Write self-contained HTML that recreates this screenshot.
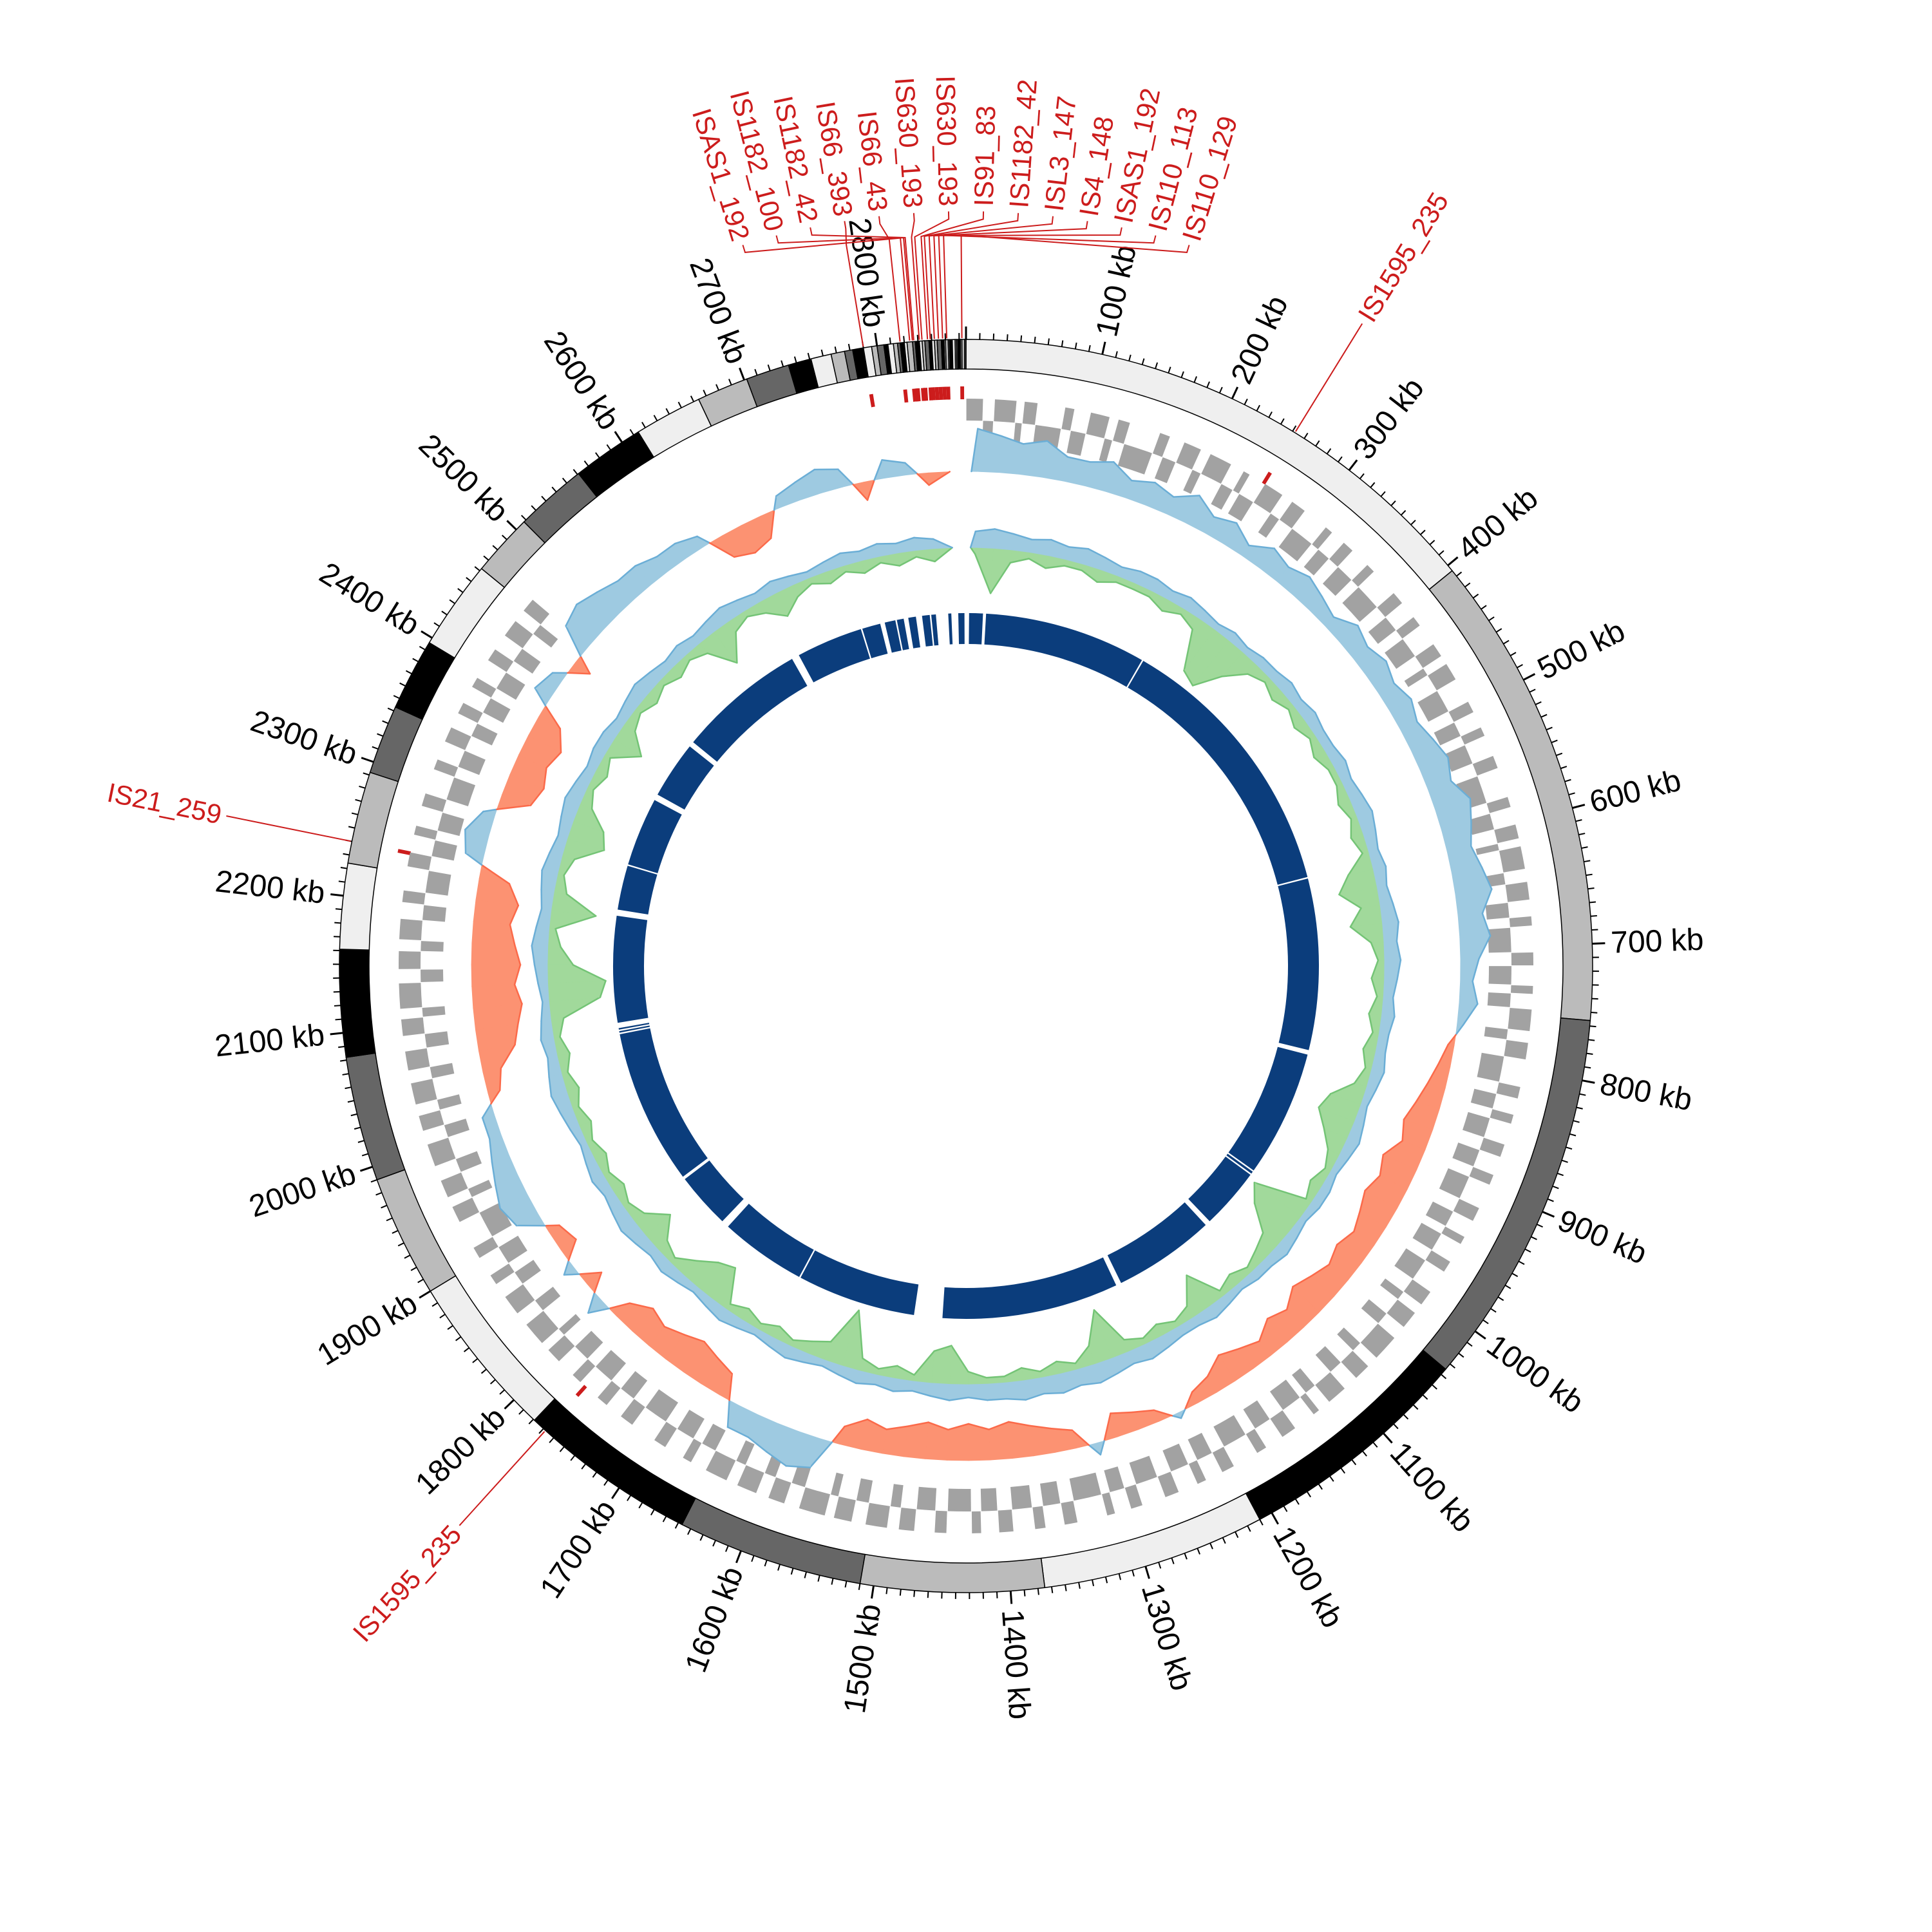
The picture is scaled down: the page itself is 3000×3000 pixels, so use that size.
<!DOCTYPE html>
<html><head><meta charset="utf-8"><title>Circular genome map</title>
<style>
html,body{margin:0;padding:0;background:#fff;}
svg{display:block;}
text{font-family:"Liberation Sans Narrow","Liberation Sans",sans-serif;}
</style></head>
<body>
<svg id="chart" width="3000" height="3000" viewBox="0 0 3000 3000" xmlns="http://www.w3.org/2000/svg">
<rect x="0" y="0" width="3000" height="3000" fill="#ffffff"/>
</svg>
<script>
// ---------------- data ----------------
const genomeKb = 2865;
const contigLens = [405,351,279,175,165,135,137,132,121,90,92,79,63,68,51,53,66,46,53,53,50,38,32,17,15,10,6,8,6,4,5,3,4,3,2,3,2,4,2,3,2,2,3,2,2,2,3,2,1,2,1,2,2,1,1,2,1,2,3];
const contigColors = ['#efefef','#bbbbbb','#666666','#000000'];
const gcVals = [
 .7,.6,.5,.6,.4,.4,.5,.3,.4,.3,
 .5,.3,.4,.2,.4,.3,.4,.3,.2,.4,
 .3,.4,.3,.4,.3,.4,.5,.4,.6,.5,
 .4,.5,.6,.4,.5,.3,.2,.3,.1,-.1,
 -.2,-.3,-.4,-.5,-.4,-.6,-.5,-.6,-.5,-.4,
 -.5,-.4,-.5,-.6,-.4,-.5,-.3,-.4,-.5,-.3,
 -.2,.1,-.2,-.3,-.4,.2,-.3,-.4,-.5,-.6,
 -.5,-.6,-.5,-.6,-.5,-.4,-.5,-.3,.5,.6,
 .5,.4,.4,-.4,-.5,-.6,-.5,-.4,-.5,-.3,
 .3,-.3,.2,-.3,-.2,.4,.5,.4,.3,.2,
 .2,-.2,-.3,-.6,-.7,-.8,-.7,-.8,-.7,-.6,
 -.7,-.5,.3,.4,.2,-.5,-.6,-.5,-.6,-.4,
 .3,.2,-.3,.5,.6,.5,.4,.4,.3,.3,
 .2,-.4,-.5,-.4,.2,.3,.4,.3,-.3,.3,
 .2,-.2,0,0];
const blueVals = [
 .5,.6,.5,.4,.5,.4,.5,.4,.3,.4,
 .4,.3,.4,.3,.2,.3,.2,.3,.3,.4,
 .3,.4,.3,.3,.4,.3,.4,.5,.4,.3,
 .4,.3,.4,.5,.4,.5,.4,.3,.4,.3,
 .3,.4,.3,.2,.3,.4,.3,.2,.3,.3,
 .2,.3,.4,.3,.3,.2,.3,.4,.3,.3,
 .4,.5,.4,.5,.6,.5,.6,.5,.6,.5,
 .5,.4,.5,.4,.3,.4,.3,.4,.3,.2,
 .3,.4,.3,.2,.3,.4,.3,.2,.3,.4,
 .3,.4,.5,.4,.3,.4,.3,.2,.3,.4,
 .5,.4,.3,.4,.3,.2,.3,.4,.5,.4,
 .3,.4,.5,.4,.3,.4,.5,.4,.3,.4,
 .4,.3,.4,.5,.4,.3,.4,.3,.4,.5,
 .4,.3,.4,.3,.2,.3,.4,.3,.4,.3,
 .4,.3,0,0];
const greenVals = [
 .1,.7,.2,.1,.2,.1,.1,.2,.1,.1,
 .1,.2,.1,.2,.8,.9,.5,.2,.1,.2,
 .1,.2,.1,.2,.1,.1,.2,.1,.2,.1,
 .4,.6,.3,.5,.2,.1,.2,.1,.2,.1,
 .2,.1,.2,.5,.6,.4,.2,.1,.2,.1,
 .9,.7,.3,.2,.1,.2,.1,.6,.2,.1,
 .2,.1,.2,.8,.3,.1,.2,.1,.2,.1,
 .1,.2,.6,.5,.1,.2,.1,.2,.9,.3,
 .2,.1,.2,.1,.2,.1,.6,.5,.3,.1,
 .2,.5,.2,.1,.2,.1,.2,.1,.2,.1,
 .2,.1,.2,.1,.2,.8,.9,.4,.2,.1,
 .7,.2,.1,.2,.6,.5,.2,.1,.2,.1,
 .5,.2,.1,.2,.1,.2,.1,.2,.6,.2,
 .1,.2,.4,.2,.1,.2,.1,.2,.1,.2,
 .1,.2,0,0];
const binKb = 20;
const geneRuns = [14,9,18,6,11,22,8,13,16,7,10,25,9,12,15,8,19,11,6,14,17,9,13,21,7,12,10,16,8,23,11,14,9,18,12,7,15,20,10,13,8,17,11,24,9,14,12,6,19,10,15,13,8,21,11,16,7,12,18,9,14,22,10,13,8,17,11,15,9,20,12,14,7,16,10,19,13,8,15,11,22,9,14,12,17,10,6,18,13,15,9,21,11,14,8,16,12,19,10,13,7,24,11,15,9,17,12,14,8,20,10,16,13,9,18,11,15,7,22,12,14,10,17,9,19,13,8,16,11,21,12,14,10,18,9,15,13,7,20,11,17,12,9,16,10,23,14,8,15,12,19,11,13,9,18,10,16,12,14,8,21,11,15,9,17,13,10,19,12,14,8,16,11,20,9,15,13,12,10,14,9,16,11,13,15,10,12];
const navyStarts = [4,26,240,602,832,1000,1005,1092,1232,1500,1657,1780,1857,2062,2066,2075,2222,2282,2380,2462,2640,2729,2759,2775,2790,2808,2820,2842,2855];
const navyEnds   = [22,238,600,826,998,1003,1085,1225,1463,1655,1770,1853,2060,2064,2068,2214,2280,2372,2455,2630,2727,2753,2773,2784,2800,2818,2826,2846,2863];
const isNames = ['IS1595_235','IS1595_235','IS21_259','ISAS1_192','IS1182_100','IS1182_42','IS66_393','IS66_43','IS630_193','IS630_193','IS91_83','IS1182_42','ISL3_147','IS4_148','ISAS1_192','IS110_113','IS110_129'];
const isKb = [252,1768,2240,2824,2826,2827,2790,2817,2831,2833,2837,2839,2842,2845,2848,2851,2862];
const tickStepKb = 10;
const labelStepKb = 100;

// ---------------- geometry ----------------
const CX = 1500, CY = 1500;
const NS = 'http://www.w3.org/2000/svg';
const svg = document.getElementById('chart');
function deg(kb){ return kb / genomeKb * 360; }
function P(r, kb){ const a = deg(kb) * Math.PI / 180; return [CX + r * Math.sin(a), CY - r * Math.cos(a)]; }
function pt(p){ return p[0].toFixed(2) + ',' + p[1].toFixed(2); }
function sector(r0, r1, k0, k1){
  const large = (k1 - k0) / genomeKb > 0.5 ? 1 : 0;
  return 'M' + pt(P(r1, k0)) + ' A' + r1 + ',' + r1 + ' 0 ' + large + ' 1 ' + pt(P(r1, k1)) +
         ' L' + pt(P(r0, k1)) + ' A' + r0 + ',' + r0 + ' 0 ' + large + ' 0 ' + pt(P(r0, k0)) + ' Z';
}
function mk(tag, parent){ const e = document.createElementNS(NS, tag); (parent || svg).appendChild(e); return e; }
function group(){ const g = mk('g'); return g; }

// ---------------- outer contig ring ----------------
const gContig = group();


let pos = 0;
contigLens.forEach((len, i) => {
  const end = Math.min(genomeKb, pos + len);
  if (end <= pos) return;
  const p = mk('path', gContig);
  
  
  p.setAttribute('d', sector(927, 973, pos, end));
  p.setAttribute('fill', contigColors[i % 4]);
  p.setAttribute('stroke', '#000');
  p.setAttribute('stroke-width', '1.5');
  pos = end;
});
if (pos < genomeKb) {
  const p = mk('path', gContig);
  
  
  p.setAttribute('d', sector(927, 973, pos, genomeKb));
  p.setAttribute('fill', '#000');
}

// ---------------- ticks and labels ----------------
const gTicks = group();


for (let k = 0; k < genomeKb - 4; k += tickStepKb) {
  const major = k % labelStepKb === 0;
  const a = P(973, k), b = P(major ? 993 : 983, k);
  const l = mk('line', gTicks);
  
  
  l.setAttribute('x1', a[0]); l.setAttribute('y1', a[1]);
  l.setAttribute('x2', b[0]); l.setAttribute('y2', b[1]);
  l.setAttribute('stroke', '#000');
  l.setAttribute('stroke-width', major ? 3 : 2);
  if (major && k > 0) {
    const t = mk('text', gTicks);
    
    
    const d = deg(k), q = P(1002, k);
    const rot = d < 180 ? d - 90 : d + 90;
    t.setAttribute('x', q[0]); t.setAttribute('y', q[1]);
    t.setAttribute('transform', 'rotate(' + rot.toFixed(2) + ' ' + q[0].toFixed(2) + ' ' + q[1].toFixed(2) + ')');
    t.setAttribute('text-anchor', d < 180 ? 'start' : 'end');
    t.setAttribute('dominant-baseline', 'central');
    t.setAttribute('font-size', '48');
    t.setAttribute('fill', '#000');
    t.textContent = k + ' kb';
  }
}

// ---------------- IS element track ----------------
const gIS = group();


isKb.forEach((k) => {
  const p = mk('path', gIS);
  
  
  p.setAttribute('d', sector(880, 900, k - 1.5, k + 1.5));
  p.setAttribute('fill', '#cc1c1c');
});

// labels
const gISL = group();


const clusterIdx = [];
isKb.forEach((k, i) => { if (k > 2780) clusterIdx.push(i); });
const spanDeg = 34.4;
isNames.forEach((name, i) => {
  const k = isKb[i];
  let labKb = k;
  const ci = clusterIdx.indexOf(i);
  if (ci >= 0) {
    const d = -spanDeg / 2 + ci * spanDeg / (clusterIdx.length - 1);
    labKb = genomeKb + d / 360 * genomeKb;
  }
  const pts = [P(975, k), P(1135, k), P(1160, labKb), P(1172, labKb)];
  const pl = mk('polyline', gISL);
  
  
  pl.setAttribute('points', pts.map(pt).join(' '));
  pl.setAttribute('fill', 'none');
  pl.setAttribute('stroke', '#cc1c1c');
  pl.setAttribute('stroke-width', '2');
  const t = mk('text', gISL);
  
  
  let d = deg(labKb) % 360;
  const q = P(1180, labKb);
  const rot = d < 180 ? d - 90 : d + 90;
  t.setAttribute('x', q[0]); t.setAttribute('y', q[1]);
  t.setAttribute('transform', 'rotate(' + rot.toFixed(2) + ' ' + q[0].toFixed(2) + ' ' + q[1].toFixed(2) + ')');
  t.setAttribute('text-anchor', d < 180 ? 'start' : 'end');
  t.setAttribute('dominant-baseline', 'central');
  t.setAttribute('font-size', '42');
  t.setAttribute('fill', '#cc1c1c');
  t.textContent = name;
});

// ---------------- gene track ----------------
const gGenes = group();


let gp = 0, strand = 0;
for (let i = 0; i < geneRuns.length && gp < genomeKb - 2; i++) {
  const end = Math.min(genomeKb - 1, gp + geneRuns[i]);
  const r0 = strand === 0 ? 847 : 812, r1 = strand === 0 ? 881 : 847;
  const p = mk('path', gGenes);
  
  
  p.setAttribute('d', sector(r0, r1, gp + 0.3, end - 0.3));
  p.setAttribute('fill', '#a2a2a2');
  gp = end; strand = 1 - strand;
}

// ---------------- wiggle tracks ----------------
function wiggle(vals, base, scale, posFill, posStroke, negFill, negStroke, nameP, nameN, parent) {
  const n = vals.length;
  const kk = i => i * binKb + binKb / 2;
  function quad(k0, v0, k1, v1, neg) {
    const p = mk('polygon', parent);
    
    
    const pts = [P(base, k0), P(base + v0 * scale, k0), P(base + v1 * scale, k1), P(base, k1)];
    p.setAttribute('points', pts.map(pt).join(' '));
    p.setAttribute('fill', neg ? negFill : posFill);
    p.setAttribute('stroke', neg ? negFill : posFill);
    p.setAttribute('stroke-width', '0.8');
    const a = P(base + v0 * scale, k0), b = P(base + v1 * scale, k1);
    const l = mk('line', parent);
    
    
    l.setAttribute('x1', a[0]); l.setAttribute('y1', a[1]);
    l.setAttribute('x2', b[0]); l.setAttribute('y2', b[1]);
    l.setAttribute('stroke', neg ? negStroke : posStroke);
    l.setAttribute('stroke-width', '2.5');
    l.setAttribute('stroke-linecap', 'round');
  }
  for (let i = 0; i < n; i++) {
    const j = (i + 1) % n;
    const v0 = vals[i], v1 = vals[j];
    const k0 = kk(i), k1 = j === 0 ? genomeKb + binKb / 2 : kk(j);
    if (v0 === 0 && v1 === 0) continue;
    if (v0 >= 0 && v1 >= 0) quad(k0, v0, k1, v1, false);
    else if (v0 <= 0 && v1 <= 0) quad(k0, v0, k1, v1, true);
    else {
      const t = v0 / (v0 - v1), kc = k0 + t * (k1 - k0);
      quad(k0, v0, kc, 0, v0 < 0);
      quad(kc, 0, k1, v1, v1 < 0);
    }
  }
}
const gGC = group();


wiggle(gcVals, 768, 95, '#9ecae1', '#6baed6', '#fc9272', '#fb6a4a', 'gc-positive-area', 'gc-negative-area', gGC);

const gIn = group();


wiggle(greenVals.map(v => -v), 650, 100, '#a1d99b', '#74c476', '#a1d99b', '#74c476', 'green-area', 'green-area', gIn);
wiggle(blueVals, 650, 50, '#9ecae1', '#6baed6', '#9ecae1', '#6baed6', 'blue-area', 'blue-area', gIn);

// ---------------- navy ring ----------------
const gNavy = group();


navyStarts.forEach((s, i) => {
  const p = mk('path', gNavy);
  
  
  p.setAttribute('d', sector(500, 548, s, navyEnds[i]));
  p.setAttribute('fill', '#0b3d7c');
});
</script>
</body></html>
